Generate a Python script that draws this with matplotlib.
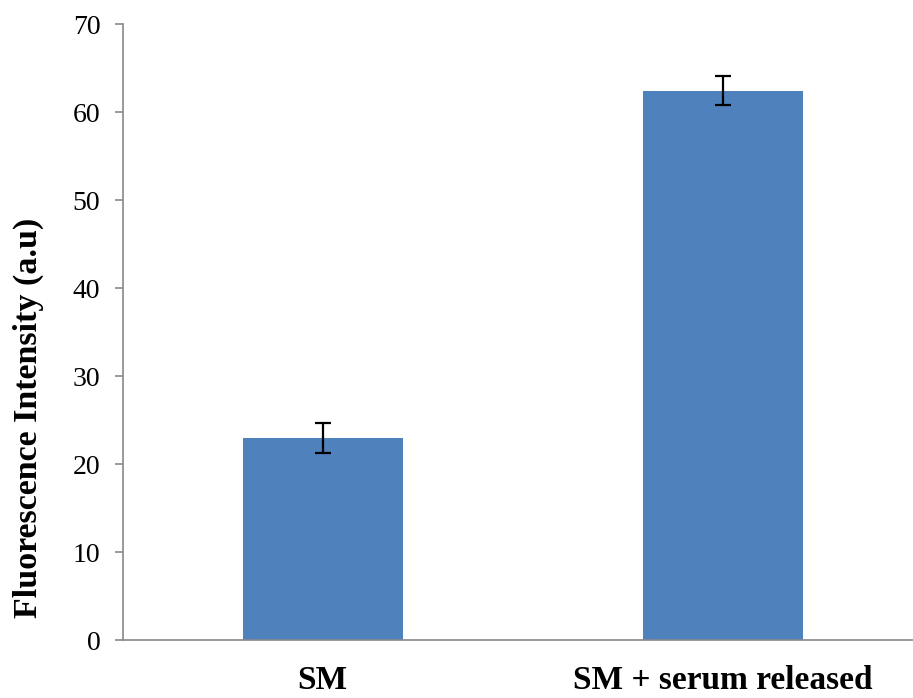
import matplotlib.pyplot as plt

categories = ["SM", "SM + serum released"]
values = [23.0, 62.4]
errors = [1.7, 1.65]

plt.rcParams['font.family'] = ['Liberation Serif', 'DejaVu Serif']

fig = plt.figure(figsize=(9.13, 6.98), dpi=100)
ax = fig.add_axes([122.5 / 913, 58 / 698, 800 / 913, 616 / 698])

x = range(len(categories))
ax.bar(x, values, width=0.4, color='#4F81BD', zorder=2)
ax.errorbar(x, values, yerr=errors, fmt='none', ecolor='black',
            elinewidth=1.6, capsize=6, capthick=1.6, zorder=3)

ax.set_xlim(-0.5, 1.5)
ax.set_ylim(0, 70)
ax.set_yticks(range(0, 71, 10))
ax.set_xticks(list(x))
ax.set_xticklabels(categories, fontsize=24, fontweight='bold')
ax.tick_params(axis='x', length=0, pad=18)
ax.tick_params(axis='y', labelsize=20, length=6, width=1.2, color='#888888', pad=10)
ax.set_ylabel('Fluorescence Intensity (a.u)', fontsize=24.5, fontweight='bold')
ax.yaxis.set_label_coords(-0.098, 0.36)

for side in ['top', 'right']:
    ax.spines[side].set_visible(False)
for side in ['left', 'bottom']:
    ax.spines[side].set_color('#888888')
    ax.spines[side].set_linewidth(1.2)

fig.savefig('out.png', dpi=100)
